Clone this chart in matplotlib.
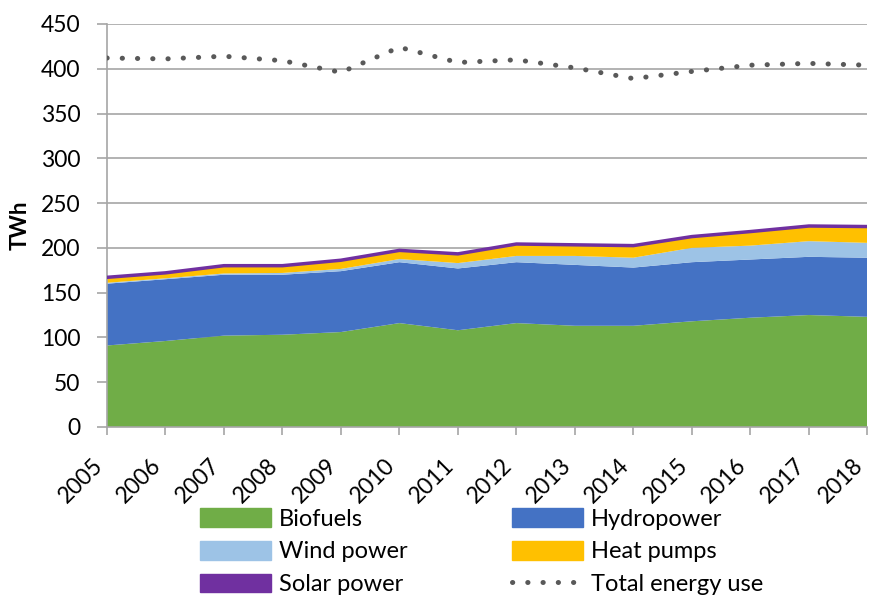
import numpy as np
import matplotlib.pyplot as plt
from matplotlib.patches import Patch
from matplotlib.lines import Line2D

plt.rcParams['font.family'] = ['Lato', 'DejaVu Sans']

years = list(range(2005, 2019))
biofuels = [91, 96, 102, 103, 106, 116, 108, 116, 113, 113, 118, 122, 125, 123]
hydropower = [69, 69, 68, 67, 68, 68, 69, 68, 68, 65, 66, 65, 65, 66]
wind_power = [1, 1, 1.4, 2, 2.5, 3.5, 6, 7, 10, 11, 16, 15.5, 17.5, 16.6]
heat_pumps = [6, 6, 8.6, 8, 9.5, 9.5, 10, 13, 12, 13, 12, 15, 16, 17]
solar_power = [0.1, 0.1, 0.1, 0.1, 0.2, 0.2, 0.3, 0.3, 0.4, 0.5, 0.6, 0.7, 0.9, 1.2]
total_use = [412, 411, 414, 409, 396, 424, 407, 410, 401, 389, 397, 404, 406, 404]

colors = ['#70ad47', '#4472c4', '#9dc3e6', '#ffc000', '#7030a0']
labels = ['Biofuels', 'Hydropower', 'Wind power', 'Heat pumps', 'Solar power']
dots = (0, (0.05, 3.0))

fig = plt.figure(figsize=(8.71, 5.95), dpi=100)
ax = fig.add_axes([0.1228, 0.2824, 0.873, 0.6773])

ax.stackplot(years, biofuels, hydropower, wind_power, heat_pumps, solar_power,
             colors=colors, zorder=2)
top = np.sum([biofuels, hydropower, wind_power, heat_pumps, solar_power], axis=0)
ax.plot(years, top, color='#7030a0', lw=2.5, zorder=3)
ax.plot(years, total_use, color='#595959', lw=3.6, linestyle=dots,
        dash_capstyle='round', zorder=3)

ax.set_xlim(2005, 2018)
ax.set_ylim(0, 450)
ax.set_yticks(range(0, 451, 50))
ax.set_xticks(years)
ax.set_xticklabels([str(y) for y in years], rotation=45, ha='right')
ax.tick_params(axis='both', labelsize=16.5, color='#a6a6a6', width=1.2)
ax.tick_params(axis='y', length=7, pad=12)
ax.tick_params(axis='x', length=6, pad=14)
ax.grid(axis='y', color='#a6a6a6', lw=1.2, zorder=0)
ax.set_axisbelow(True)
for s in ['top', 'right']:
    ax.spines[s].set_visible(False)
for s in ['left', 'bottom']:
    ax.spines[s].set_color('#a6a6a6')
    ax.spines[s].set_linewidth(1.2)
ax.set_ylabel('TWh', fontsize=16, fontweight='bold')
ax.yaxis.set_label_coords(-0.101, 0.5)

handles = [Patch(facecolor=c, edgecolor=c) for c in colors]
handles.append(Line2D([0], [0], color='#595959', lw=3.6, linestyle=dots,
                      dash_capstyle='round'))
all_labels = labels + ['Total energy use']
order = [0, 2, 4, 1, 3, 5]
fig.legend([handles[i] for i in order], [all_labels[i] for i in order],
           loc='lower center', bbox_to_anchor=(0.553, -0.036), ncol=2,
           frameon=False, fontsize=17, handlelength=3.0, handleheight=0.85,
           columnspacing=4.4, labelspacing=0.47, handletextpad=0.35)

fig.savefig('out.png', dpi=100)
